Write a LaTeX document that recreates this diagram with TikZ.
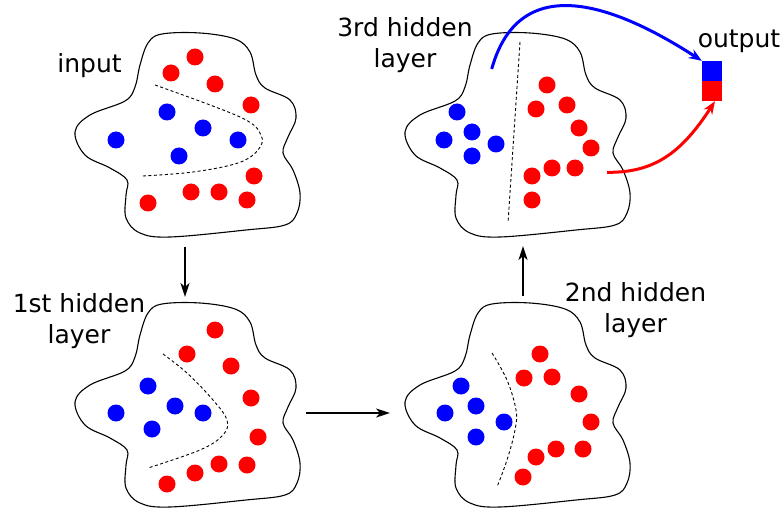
\documentclass[tikz,border=0pt]{standalone}
\usepackage{fontspec}
\setmainfont{DejaVu Sans}
\usetikzlibrary{arrows.meta}
\begin{document}
\begin{tikzpicture}[x=1pt,y=-1pt,
  blob/.style={draw=black, line width=1.1pt},
  sep/.style={draw=black, line width=0.9pt, dash pattern=on 3pt off 2.5pt},
  rdot/.style={fill=red},
  bdot/.style={fill=blue},
  lbl/.style={font=\fontsize{25}{31}\selectfont, align=center, inner sep=0pt},
  flow/.style={draw=black, line width=2.2pt, -{Stealth[length=14pt,width=9pt,inset=4pt]}},
  cflow/.style={line width=3pt, -{Stealth[length=13pt,width=10pt]}},
]
\useasboundingbox (0,0) rectangle (783,510);

% blobs
\foreach \dx/\dy in {0/0,0/270,330/270,330/0}{
  \draw[blob, shift={(\dx,\dy)}] plot[smooth cycle, tension=0.6] coordinates {
    (148,43) (162,34) (200,33) (235,39) (250,52) (256,75) (265,88) (290,100)
    (296,118) (288,137) (283,153) (293,170) (300,193) (297,213) (285,225)
    (246,230) (170,237) (140,233) (126,218) (126,195) (127,180) (110,168)
    (85,155) (75,132) (90,115) (125,101) (135,87) (140,65)};
}

% input
\foreach \p in {(195,57),(171,73),(215,84),(251,105),(254,176),(191,192),(219,192),(247,200),(148,203)}
  \fill[rdot] \p circle (8.5);
\foreach \p in {(167,112),(203,128),(238,140),(116,140),(179,156)}
  \fill[bdot] \p circle (8.5);
\draw[sep] plot[smooth, tension=0.6] coordinates {(155,85) (240,117) (261,135) (258,150) (238,163) (193,172) (143,176)};

% 1st hidden
\foreach \p in {(215,330),(187,354),(231,366),(251,398),(258,437),(247,465),(219,464),(195,473),(167,484)}
  \fill[rdot] \p circle (8.5);
\foreach \p in {(148,386),(175,406),(203,413),(116,413),(152,429)}
  \fill[bdot] \p circle (8.5);
\draw[sep] plot[smooth, tension=0.6] coordinates {(163,354) (187,373) (213,400) (227,420) (223,435) (200,450) (148,468)};

% 2nd hidden
\foreach \p in {(540,354),(524,378),(552,377),(579,394),(591,422),(583,449),(556,449),(536,457),(523,477)}
  \fill[rdot] \p circle (8.5);
\foreach \p in {(461,386),(476,406),(445,413),(504,422),(476,437)}
  \fill[bdot] \p circle (8.5);
\draw[sep] plot[smooth, tension=0.6] coordinates {(492,353) (507,380) (516,410) (515,430) (507,460) (497,487)};

% 3rd hidden
\foreach \p in {(547,85),(536,109),(567,105),(579,128),(591,148),(575,168),(552,168),(532,176),(532,200)}
  \fill[rdot] \p circle (8.5);
\foreach \p in {(457,112),(472,132),(444,140),(496,144),(472,156)}
  \fill[bdot] \p circle (8.5);
\coordinate (d3a) at (520,42);
\coordinate (d3b) at (508,223);
\draw[sep] (d3a) -- (d3b);

% labels
\node[lbl] (linput) at (89.5,65.7) {input};
\node[lbl] (lh1) at (79,321) {1st hidden\\layer};
\node[lbl] (lh2) at (635.5,310.5) {2nd hidden\\layer};
\node[lbl] (lh3) at (405,45) {3rd hidden\\layer};
\node[lbl] (lout) at (739,41) {output};

% output box
\node[fill=blue, inner sep=0pt, minimum size=20pt] (ob) at (712,71) {};
\node[fill=red, inner sep=0pt, minimum size=20pt] (or) at (712,91) {};

% arrows between layers
\coordinate (a1s) at (185,247);
\coordinate (a1e) at (185,297);
\coordinate (a2s) at (306,413);
\coordinate (a2e) at (390,413);
\coordinate (a3s) at (523,296);
\coordinate (a3e) at (523,246);
\draw[flow] (a1s) -- (a1e);
\draw[flow] (a2s) -- (a2e);
\draw[flow] (a3s) -- (a3e);

% to output
\coordinate (bs) at (491.7,69);
\coordinate (rs) at (607,172.3);
\draw[cflow, blue] (bs) .. controls (517,-22) and (600,-5) .. (ob.north west);
\draw[cflow, red] (rs) .. controls (655,173) and (682,152) .. ([xshift=3pt]or.south);
\end{tikzpicture}
\end{document}
